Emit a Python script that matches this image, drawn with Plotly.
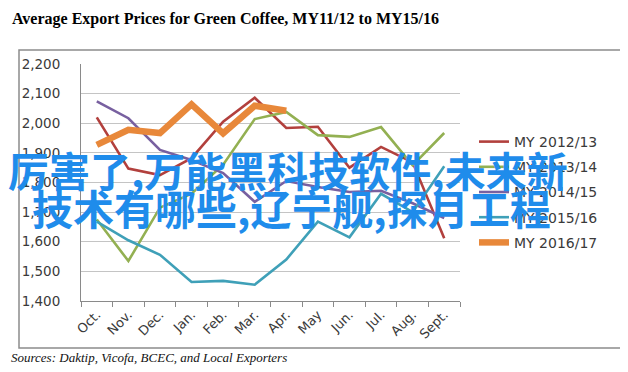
import plotly.graph_objects as go

months = ["Oct.", "Nov.", "Dec.", "Jan.", "Feb.", "Mar.", "Apr.", "May", "Jun.", "Jul.", "Aug.", "Sept."]

my_2012_13 = [2020, 1847, 1825, 1882, 2005, 2086, 1984, 1988, 1850, 1920, 1868, 1612]
my_2013_14 = [1675, 1535, 1715, 1762, 1860, 2014, 2038, 1960, 1954, 1987, 1858, 1967]
my_2014_15 = [2074, 2017, 1910, 1876, 1832, 1735, 1805, 1785, 1768, 1772, 1730, 1680]
my_2015_16 = [1668, 1605, 1556, 1464, 1468, 1455, 1540, 1668, 1615, 1762, 1700, 1855]
my_2016_17 = [1927, 1978, 1967, 2064, 1966, 2059, 2042]

series_names = ["MY 2012/13", "MY 2013/14", "MY 2014/15", "MY 2015/16", "MY 2016/17"]
series_vals = [my_2012_13, my_2013_14, my_2014_15, my_2015_16, my_2016_17]
colors = ["#B2403D", "#93B052", "#7860A0", "#3FA0B8", "#E8883A"]
widths = [2.6, 2.6, 2.6, 2.6, 6.5]

yticks = [1400, 1500, 1600, 1700, 1800, 1900, 2000, 2100, 2200]

# pixel geometry helpers (plot area 73..452 x 56..293)
L, R, T, B = 73, 452, 56, 293
W, H = R - L, B - T
def px(x):
    return (x - L) / W
def py(y):
    return (B - y) / H

fig = go.Figure()
for i, (name, vals) in enumerate(zip(series_names, series_vals)):
    fig.add_trace(go.Scatter(
        x=months[:len(vals)], y=vals, mode="lines", name=name,
        legendgroup=name,
        line=dict(color=colors[i], width=widths[i]),
    ))

fig.update_layout(
    width=628, height=372,
    margin=dict(l=L, r=628 - R, t=T, b=372 - B),
    paper_bgcolor="white", plot_bgcolor="white",
    font=dict(family="DejaVu Sans", size=13, color="#3a3a3a"),
    showlegend=True,
    legend=dict(x=px(466), y=py(118), xanchor="left", yanchor="top",
                font=dict(family="DejaVu Sans", size=14, color="#3a3a3a"),
                tracegroupgap=4, bgcolor="rgba(0,0,0,0)"),
    xaxis=dict(categoryorder="array", categoryarray=months,
               range=[-0.5, 11.5], tickangle=-45,
               showline=True, linecolor="#8a8a8a", linewidth=1,
               ticks="outside", tickson="boundaries", ticklen=5, tickcolor="#8a8a8a",
               showgrid=False, tickfont=dict(size=13, color="#3a3a3a")),
    yaxis=dict(range=[1400, 2200], tickvals=yticks, tickformat=",",
               showline=True, linecolor="#8a8a8a", linewidth=1,
               showgrid=True, gridcolor="#c4c4c4", gridwidth=1,
               ticks="outside", ticklen=17, tickcolor="rgba(0,0,0,0)",
               zeroline=False,
               tickfont=dict(size=13.5, color="#3a3a3a")),
)

# outer chart frame
fig.add_shape(type="rect", xref="paper", yref="paper",
              x0=px(11), x1=px(613), y0=py(340), y1=py(42),
              line=dict(color="#8c8c8c", width=1.5), layer="below")

# title
fig.add_annotation(text="<b>Average Export Prices for Green Coffee, MY11/12 to MY15/16</b>",
                   xref="paper", yref="paper", x=px(2), y=py(11),
                   xanchor="left", yanchor="middle", showarrow=False,
                   font=dict(family="Liberation Serif", size=16, color="#000000"))

# source note
fig.add_annotation(text="<i>Sources: Daktip, Vicofa, BCEC, and Local Exporters</i>",
                   xref="paper", yref="paper", x=px(1), y=py(349),
                   xanchor="left", yanchor="middle", showarrow=False,
                   font=dict(family="Liberation Serif", size=13, color="#111111"))

# overlay text
fig.add_annotation(text="<b>厉害了,万能黑科技软件,未来新</b>",
                   xref="paper", yref="paper", x=px(280), y=py(161),
                   xanchor="center", yanchor="middle", showarrow=False,
                   font=dict(family="Noto Sans CJK SC", size=41, color="#1f8ceb"))
fig.add_annotation(text="<b>技术有哪些,辽宁舰,探月工程</b>",
                   xref="paper", yref="paper", x=px(283), y=py(199),
                   xanchor="center", yanchor="middle", showarrow=False,
                   font=dict(family="Noto Sans CJK SC", size=41, color="#1f8ceb"))

fig.write_html("out.html")
